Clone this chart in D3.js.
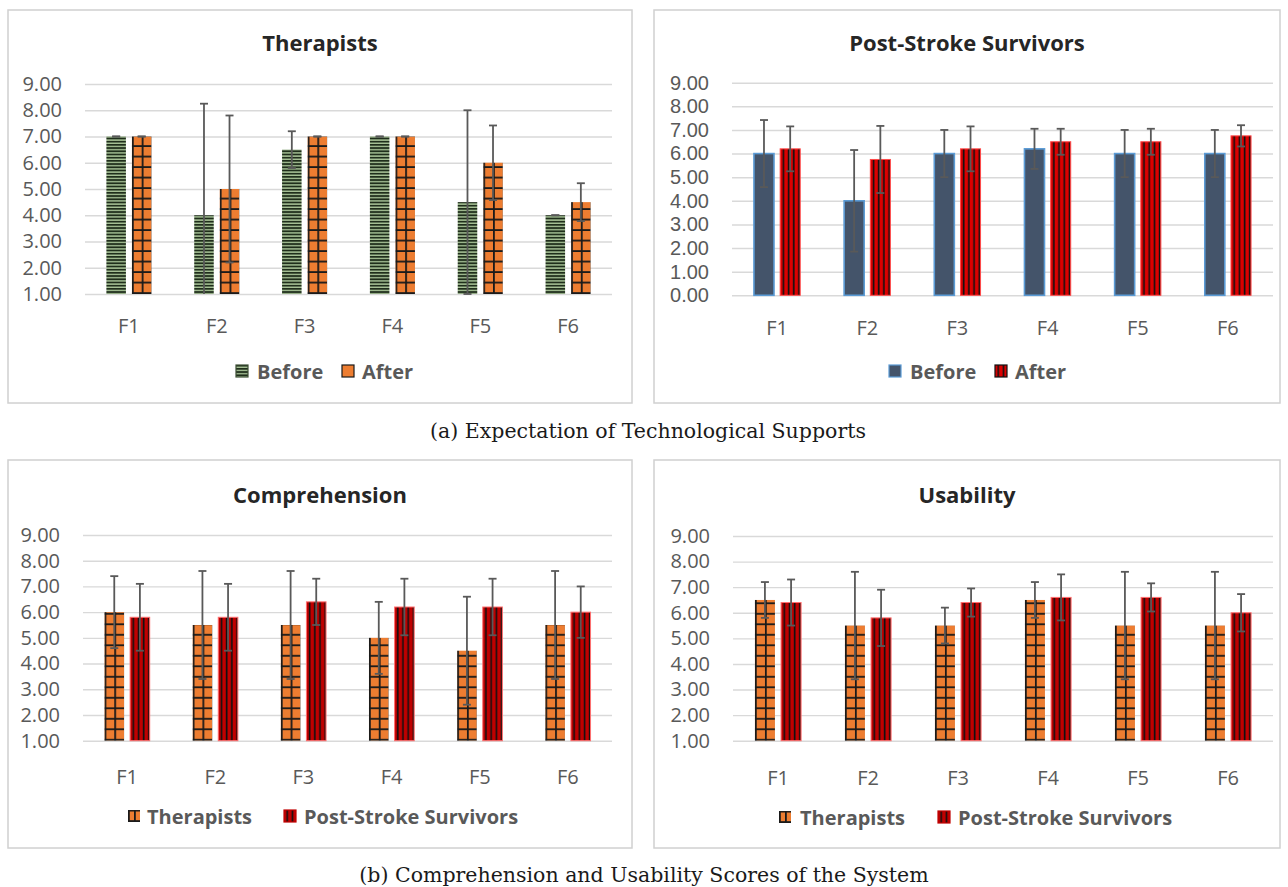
<!DOCTYPE html>
<meta charset="utf-8">
<style>
body { margin: 0; background: #fff; }
svg text { font-family: "Open Sans", "DejaVu Sans", sans-serif; }
.axis text { fill: #595959; font-size: 20px; }
.axis line { stroke: #d9d9d9; stroke-width: 1.4; }
.axis.tight text { font-family: "Liberation Sans", sans-serif; }
.title { fill: #262626; font-size: 22px; font-weight: bold; }
.legend text { fill: #595959; font-size: 20px; font-weight: bold; }
.caption { font-family: "DejaVu Serif", serif !important; font-size: 20.5px; fill: #1a1a1a; }
</style>
<svg width="1288" height="887"></svg>
<script src="https://cdn.jsdelivr.net/npm/d3@7/dist/d3.min.js"></script>
<script>

var features = ["F1", "F2", "F3", "F4", "F5", "F6"];

// (a) expectation - therapists
var therBefore    = [7.0, 4.0, 6.5, 7.0, 4.5, 4.0];
var therBeforeErr = [0, 4.25, 0.7, 0, 3.5, 0];
var therAfter     = [7.0, 5.0, 7.0, 7.0, 6.0, 4.5];
var therAfterErr  = [0, 2.8, 0, 0, 1.42, 0.72];

// (a) expectation - post-stroke survivors
var pssBefore    = [6.0, 4.0, 6.0, 6.2, 6.0, 6.0];
var pssBeforeErr = [1.42, 2.15, 1.0, 0.85, 1.0, 1.0];
var pssAfter     = [6.2, 5.75, 6.2, 6.5, 6.5, 6.75];
var pssAfterErr  = [0.95, 1.42, 0.95, 0.55, 0.55, 0.45];

// (b) comprehension
var compTher    = [6.0, 5.5, 5.5, 5.0, 4.5, 5.5];
var compTherErr = [1.4, 2.1, 2.1, 1.4, 2.1, 2.1];
var compPss     = [5.8, 5.8, 6.4, 6.2, 6.2, 6.0];
var compPssErr  = [1.3, 1.3, 0.9, 1.1, 1.1, 1.0];

// (b) usability
var useTher    = [6.5, 5.5, 5.5, 6.5, 5.5, 5.5];
var useTherErr = [0.7, 2.1, 0.7, 0.7, 2.1, 2.1];
var usePss     = [6.4, 5.8, 6.4, 6.6, 6.6, 6.0];
var usePssErr  = [0.9, 1.1, 0.55, 0.9, 0.55, 0.73];

var ticksFromOne  = [1, 2, 3, 4, 5, 6, 7, 8, 9];
var ticksFromZero = [0, 1, 2, 3, 4, 5, 6, 7, 8, 9];

var captionA = "(a) Expectation of Technological Supports";
var captionB = "(b) Comprehension and Usability Scores of the System";

var svg = d3.select("svg");
var defs = svg.append("defs");
svg.append("rect").attr("width", 1288).attr("height", 887).attr("fill", "#fff");

// shared stripe pattern for the green bars
var green = defs.append("pattern").attr("id", "greenStripe")
    .attr("patternUnits", "userSpaceOnUse").attr("width", 6).attr("height", 3.2);
green.append("rect").attr("width", 6).attr("height", 3.2).attr("fill", "#a9c498");
green.append("rect").attr("width", 6).attr("height", 1.8).attr("fill", "#1f2e1b");

var texCount = 0;
function texture(kind, x, y, w) {
  if (kind === "green") return "url(#greenStripe)";
  if (kind === "slate") return "#44546a";
  var id = "tex" + (texCount++);
  var p = defs.append("pattern").attr("id", id).attr("patternUnits", "userSpaceOnUse");
  if (kind === "grid") {
    var tw = w / 2, th = 10.5;
    p.attr("x", x).attr("y", y).attr("width", tw).attr("height", th);
    p.append("rect").attr("width", tw).attr("height", th).attr("fill", "#ed7d31");
    p.append("rect").attr("width", 1.8).attr("height", th).attr("fill", "#1a1a1a");
    p.append("rect").attr("y", th - 1.8).attr("width", tw).attr("height", 1.8).attr("fill", "#1a1a1a");
  } else {
    var col = kind === "red" ? "#dc0000" : "#c00000";
    p.attr("x", x).attr("y", 0).attr("width", 5.2).attr("height", 10);
    p.append("rect").attr("width", 5.2).attr("height", 10).attr("fill", col);
    p.append("rect").attr("x", 2.4).attr("width", 1.6).attr("height", 10).attr("fill", "#111");
  }
  return "url(#" + id + ")";
}

var barStroke = { green: "none", grid: "none", slate: "#5b9bd5", red: "#ff4a4a", darkred: "#ff7070" };

var fmt = d3.format(".2f");

function drawPanel(p) {
  var g = svg.append("g");

  g.append("rect")
      .attr("x", p.box[0]).attr("y", p.box[1])
      .attr("width", p.box[2]).attr("height", p.box[3])
      .attr("fill", "#fff").attr("stroke", "#d0d0d0").attr("stroke-width", 1.5);

  g.append("text").attr("class", "title")
      .attr("x", p.box[0] + p.box[2] / 2).attr("y", p.titleY)
      .attr("text-anchor", "middle").attr("dominant-baseline", "central")
      .text(p.title);

  var x0 = d3.scaleBand().domain(features)
      .range([p.plot.left, p.plot.right])
      .paddingInner(0.487).paddingOuter(0.2435);
  var x1 = d3.scaleBand().domain(d3.range(p.series.length))
      .range([0, x0.bandwidth()]).paddingInner(0.235);
  var y = d3.scaleLinear().domain([p.ticks[0], 9])
      .range([p.plot.bottom, p.plot.top]);

  // tick labels sit closer together when the axis starts at zero
  var yAxis = g.append("g").attr("class", p.ticks.length > 9 ? "axis tight" : "axis")
      .attr("transform", "translate(" + p.plot.left + ",0)")
      .call(d3.axisLeft(y).tickValues(p.ticks).tickFormat(fmt)
        .tickSize(-(p.plot.right - p.plot.left)).tickPadding(23));
  yAxis.select(".domain").remove();

  var xAxis = g.append("g").attr("class", "axis")
      .attr("transform", "translate(0," + p.xLabelY + ")")
      .call(d3.axisBottom(x0).tickSize(0).tickPadding(0));
  xAxis.select(".domain").remove();
  xAxis.selectAll("text").attr("y", 0).attr("dy", "0.35em");

  var base = y(p.ticks[0]);

  p.series.forEach(function(s, si) {
    features.forEach(function(f, i) {
      var bx = x0(f) + x1(si), bw = x1.bandwidth();
      g.append("rect")
          .attr("x", bx).attr("y", y(s.values[i]))
          .attr("width", bw).attr("height", base - y(s.values[i]))
          .attr("fill", texture(s.kind, bx, base, bw))
          .attr("stroke", barStroke[s.kind])
          .attr("stroke-width", s.kind === "slate" ? 1.6 : 1);
    });
  });

  // error bars
  p.series.forEach(function(s, si) {
    features.forEach(function(f, i) {
      var cx = x0(f) + x1(si) + x1.bandwidth() / 2;
      var hi = s.values[i] + s.errors[i];
      var lo = s.values[i] - s.errors[i];
      var clipped = lo < p.ticks[0];
      if (clipped) lo = p.ticks[0];
      var eg = g.append("g").attr("stroke", "#595959").attr("stroke-width", 1.8);
      eg.append("line").attr("x1", cx).attr("x2", cx).attr("y1", y(hi)).attr("y2", y(lo));
      eg.append("line").attr("x1", cx - 4).attr("x2", cx + 4).attr("y1", y(hi)).attr("y2", y(hi));
      if (!clipped)
        eg.append("line").attr("x1", cx - 4).attr("x2", cx + 4).attr("y1", y(lo)).attr("y2", y(lo));
    });
  });

  var lg = g.append("g").attr("class", "legend");
  p.legend.forEach(function(d) {
    var sy = p.legendY - 6;
    lg.append("rect")
        .attr("x", d.sx).attr("y", sy).attr("width", 12).attr("height", 12)
        .attr("fill", d.plain ? "#ed7d31" : texture(d.kind, d.sx, sy + 12, 12))
        .attr("stroke", d.stroke || barStroke[d.kind])
        .attr("stroke-width", 1.2);
    lg.append("text")
        .attr("x", d.tx).attr("y", p.legendY)
        .attr("dominant-baseline", "central")
        .text(d.label);
  });
}

drawPanel({
  box: [8, 10, 624, 393], title: "Therapists", titleY: 42,
  plot: { left: 85, right: 612, top: 84, bottom: 294 },
  ticks: ticksFromOne, xLabelY: 326, legendY: 371,
  series: [
    { values: therBefore, errors: therBeforeErr, kind: "green" },
    { values: therAfter, errors: therAfterErr, kind: "grid" }
  ],
  legend: [
    { label: "Before", kind: "green", sx: 236, tx: 257, stroke: "#3c4f35" },
    { label: "After", kind: "grid", sx: 342, tx: 362, stroke: "#1a1a1a", plain: true }
  ]
});

drawPanel({
  box: [654, 10, 626, 393], title: "Post-Stroke Survivors", titleY: 42,
  plot: { left: 732, right: 1273, top: 82.7, bottom: 295.3 },
  ticks: ticksFromZero, xLabelY: 328, legendY: 371,
  series: [
    { values: pssBefore, errors: pssBeforeErr, kind: "slate" },
    { values: pssAfter, errors: pssAfterErr, kind: "red" }
  ],
  legend: [
    { label: "Before", kind: "slate", sx: 889, tx: 910 },
    { label: "After", kind: "red", sx: 995, tx: 1015, stroke: "#111" }
  ]
});

drawPanel({
  box: [8, 460, 624, 388], title: "Comprehension", titleY: 494,
  plot: { left: 83, right: 612, top: 535, bottom: 740.7 },
  ticks: ticksFromOne, xLabelY: 777, legendY: 816,
  series: [
    { values: compTher, errors: compTherErr, kind: "grid" },
    { values: compPss, errors: compPssErr, kind: "darkred" }
  ],
  legend: [
    { label: "Therapists", kind: "grid", sx: 128, tx: 147, stroke: "none" },
    { label: "Post-Stroke Survivors", kind: "darkred", sx: 284, tx: 304, stroke: "#c00000" }
  ]
});

drawPanel({
  box: [654, 460, 626, 388], title: "Usability", titleY: 494,
  plot: { left: 733, right: 1273, top: 536, bottom: 740.7 },
  ticks: ticksFromOne, xLabelY: 778, legendY: 817,
  series: [
    { values: useTher, errors: useTherErr, kind: "grid" },
    { values: usePss, errors: usePssErr, kind: "darkred" }
  ],
  legend: [
    { label: "Therapists", kind: "grid", sx: 779, tx: 800, stroke: "none" },
    { label: "Post-Stroke Survivors", kind: "darkred", sx: 938, tx: 958, stroke: "#c00000" }
  ]
});

svg.append("text").attr("class", "caption")
    .attr("x", 648).attr("y", 431).attr("text-anchor", "middle")
    .attr("dominant-baseline", "central").text(captionA);
svg.append("text").attr("class", "caption")
    .attr("x", 644).attr("y", 875).attr("text-anchor", "middle")
    .attr("dominant-baseline", "central").text(captionB);

</script>
